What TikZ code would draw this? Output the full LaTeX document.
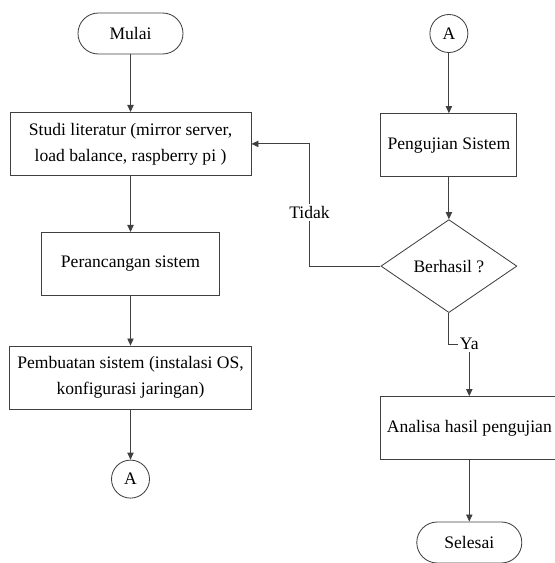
\documentclass[tikz,border=0pt]{standalone}
\usepackage{fontspec}
\setmainfont{Liberation Serif}
\usetikzlibrary{positioning,shapes.geometric,arrows.meta}

\begin{document}
\begin{tikzpicture}[
    font=\fontsize{12.5}{18.5}\selectfont,
    ln/.style={draw=black!75, line width=0.6pt},
    arr/.style={ln, -{Triangle[length=5pt,width=4.5pt]}},
    term/.style={ln, rounded corners=0.51cm, minimum width=2.625cm, minimum height=1.025cm},
    proc/.style={ln, align=center, minimum height=1.575cm},
    dec/.style={ln, diamond, minimum width=3.4cm, minimum height=2.325cm, inner sep=0pt},
    conn/.style={ln, circle, minimum size=0.95cm, inner sep=0pt},
    lbl/.style={fill=white, inner sep=1.5pt}]
            \clip (-3.2625,0.8375) rectangle (10.6125,-13.2375);
            \node[term] (M) {Mulai};
            \node[proc, minimum width=6.025cm, on grid, below=2.76 of M] (S) {Studi literatur (mirror server,\\ load balance, raspberry pi )};
            \node[proc, minimum width=4.45cm, on grid, below=3 of S] (P) {Perancangan sistem};
            \node[proc, minimum width=6.05cm, on grid, below=2.84 of P] (B) {Pembuatan sistem (instalasi OS,\\ konfigurasi jaringan)};
            \node[conn, on grid, below=2.54 of B] (A1) {A};
            \node[conn, on grid, right=7.96 of M] (A2) {A};
            \node[proc, minimum width=3.4cm, on grid, below=2.79 of A2] (U) {Pengujian Sistem};
            \node[dec, on grid, below=3.025 of U] (D) {Berhasil ?};
            \node[proc, minimum width=4.45cm, on grid, below right=4.05cm and 0.51cm of D] (H) {Analisa hasil pengujian};
            \node[term, on grid, below=2.86 of H] (E) {Selesai};
            \node[lbl, on grid, above=2.1 of H] (Y) {Ya};
            \coordinate[on grid, left=1.775 of D.west] (T);
            \draw[arr] (M) -- (S);
            \draw[arr] (S) -- (P);
            \draw[arr] (P) -- (B);
            \draw[arr] (B) -- (A1);
            \draw[arr] (A2) -- (U);
            \draw[arr] (U) -- (D);
            \draw[arr] (D.west) -- (T) |- node[lbl, pos=0.22] (TL) {Tidak} (S.east);
            \draw[ln] (D.south) |- (Y.west);
            \draw[arr] (Y.south) -- (H.north);
            \draw[arr] (H) -- (E);
          \end{tikzpicture}
\end{document}
